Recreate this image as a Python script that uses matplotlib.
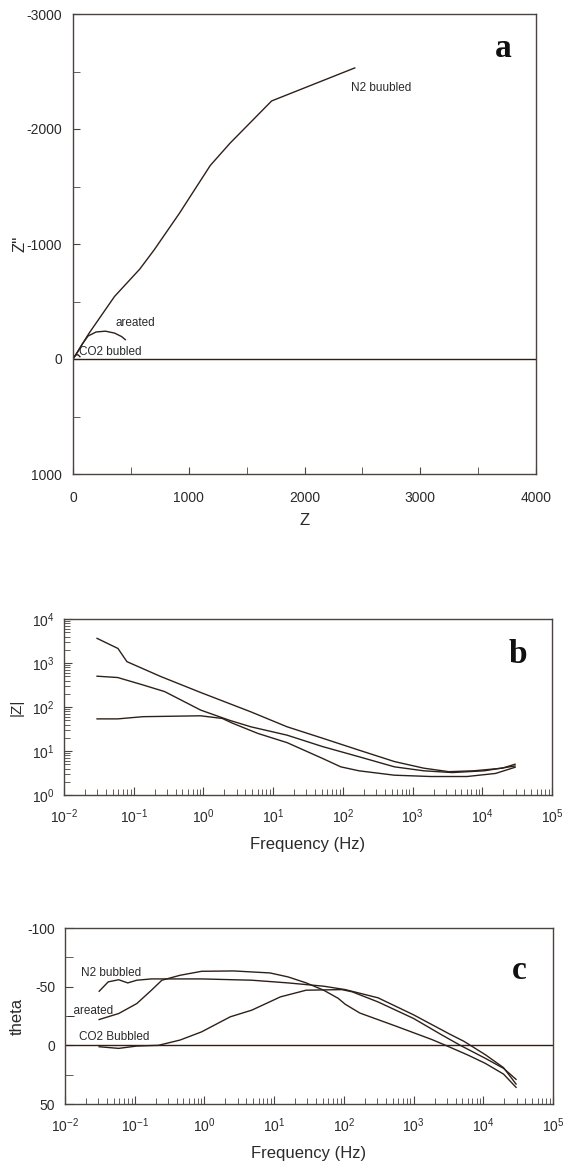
import numpy as np
import matplotlib
matplotlib.use("Agg")
import matplotlib.pyplot as plt
from matplotlib.ticker import LogLocator, NullFormatter, MultipleLocator

plt.rcParams['font.family'] = ['Liberation Sans', 'DejaVu Sans']
plt.rcParams['axes.unicode_minus'] = False

LINE = '#2e2019'
SPINE = '#4a4440'
TXT = '#2a2a2a'

# ---- panel a: Nyquist (Z', Z'') ----
n2_zr = [0, 140, 359, 577, 702, 920, 1186, 1357, 1716, 2434]
n2_zi = [0, -226, -544, -782, -950, -1268, -1683, -1877, -2244, -2531]
aer_zr = [0, 40, 80, 130, 200, 280, 360, 420, 452]
aer_zi = [0, -60, -130, -200, -235, -242, -225, -195, -168]
co2_zr = [0, 15, 30, 45, 60]
co2_zi = [0, -25, -38, -35, -20]

# ---- panel b: |Z| vs frequency (log10 values) ----
b_n2_logf = [-1.526, -1.226, -1.097, -0.608, -0.04, 0.68, 1.20, 1.71, 2.23, 2.74, 3.16, 3.52, 3.88, 4.29, 4.47]
b_n2_logz = [3.56, 3.33, 3.03, 2.69, 2.33, 1.89, 1.55, 1.29, 1.02, 0.76, 0.61, 0.53, 0.55, 0.61, 0.70]
b_aer_logf = [-1.526, -1.23, -0.865, -0.556, -0.04, 0.37, 0.68, 1.20, 1.71, 2.23, 2.74, 3.16, 3.57, 4.03, 4.47]
b_aer_logz = [2.70, 2.67, 2.50, 2.35, 1.93, 1.70, 1.55, 1.36, 1.10, 0.87, 0.64, 0.55, 0.51, 0.55, 0.66]
b_co2_logf = [-1.526, -1.23, -0.865, -0.04, 0.27, 0.42, 0.78, 1.20, 1.71, 1.97, 2.23, 2.74, 3.26, 3.78, 4.19, 4.47]
b_co2_logz = [1.73, 1.73, 1.78, 1.80, 1.74, 1.63, 1.40, 1.19, 0.83, 0.64, 0.55, 0.45, 0.42, 0.42, 0.49, 0.63]

# ---- panel c: phase angle vs frequency ----
c_n2_logf = [-1.51, -1.38, -1.23, -1.10, -0.97, -0.76, -0.04, 0.68, 1.20, 1.71, 2.02, 2.49, 3.0, 3.52, 3.72, 4.03, 4.29, 4.47]
c_n2_th = [-46.1, -54.1, -55.9, -53.2, -55.5, -56.6, -56.6, -55.5, -53.2, -50.4, -47.5, -40.5, -26.0, -9.5, -3.5, 8.0, 19.0, 33.0]
c_aer_logf = [-1.51, -1.23, -0.97, -0.76, -0.61, -0.35, -0.04, 0.42, 0.94, 1.20, 1.46, 1.71, 1.92, 2.02, 2.23, 2.74, 3.26, 3.46, 3.78, 4.03, 4.29, 4.47]
c_aer_th = [-22.0, -27.1, -35.6, -47.0, -55.5, -59.7, -63.1, -63.4, -61.7, -58.3, -53.2, -47.0, -40.0, -35.0, -27.5, -16.5, -5.0, 0.0, 8.3, 15.4, 24.5, 35.8]
c_co2_logf = [-1.51, -1.23, -0.97, -0.66, -0.35, -0.04, 0.37, 0.68, 1.09, 1.46, 1.97, 2.12, 2.49, 3.0, 3.41, 3.67, 4.03, 4.29, 4.47]
c_co2_th = [1.2, 2.6, 0.6, 0.0, -4.5, -11.5, -24.3, -30.0, -41.3, -47.0, -47.5, -45.6, -37.0, -22.9, -8.7, 0.0, 11.1, 19.6, 29.0]

fig = plt.figure(figsize=(5.64, 11.71), dpi=100)


def style_spines(ax):
    for s in ax.spines.values():
        s.set_color(SPINE)
        s.set_linewidth(1.0)
    ax.tick_params(which='both', direction='in', colors=SPINE, labelcolor=TXT,
                   top=False, right=False)


# panel a
ax = fig.add_axes([73 / 564, 1 - 474 / 1171, 463 / 564, 460 / 1171])
ax.plot(n2_zr, n2_zi, color=LINE, lw=1.0)
ax.plot(aer_zr, aer_zi, color=LINE, lw=1.0)
ax.plot(co2_zr, co2_zi, color=LINE, lw=1.0)
ax.axhline(0, color=LINE, lw=1.0)
ax.set_xlim(0, 4000)
ax.set_ylim(1000, -3000)
ax.xaxis.set_major_locator(MultipleLocator(1000))
ax.xaxis.set_minor_locator(MultipleLocator(500))
ax.yaxis.set_major_locator(MultipleLocator(1000))
ax.yaxis.set_minor_locator(MultipleLocator(500))
style_spines(ax)
ax.tick_params(which='both', length=5, labelsize=10)
ax.tick_params(axis='x', pad=12)
ax.tick_params(axis='y', pad=8)
ax.set_yticks([-3000, -2000, -1000, 0, 1000])
ax.set_yticklabels(['-3000', '-2000', '-1000', '0', '1000'])
ax.set_xlabel('Z', fontsize=12, color=TXT, labelpad=6)
ax.set_ylabel("Z''", fontsize=12, color=TXT, labelpad=-1)
ax.text(2402, -2354, 'N2 buubled', fontsize=8.5, color=TXT, va='center')
ax.text(365, -313, 'areated', fontsize=8.5, color=TXT, va='center')
ax.text(53, -58, 'CO2 bubled', fontsize=8.5, color=TXT, va='center')
ax.text(0.93, 0.925, 'a', transform=ax.transAxes, fontsize=24, fontweight='bold',
        family='Liberation Serif', ha='center', va='center', color='#111')


def log_axis(ax):
    ax.set_xscale('log')
    ax.set_xticks(10.0 ** np.arange(-2, 6))
    ax.xaxis.set_minor_locator(LogLocator(base=10, subs=np.arange(2, 10), numticks=10))
    ax.xaxis.set_minor_formatter(NullFormatter())
    ax.set_xlim(1e-2, 1e5)
    style_spines(ax)
    ax.tick_params(which='major', length=6, labelsize=10)
    ax.tick_params(which='minor', length=4)
    ax.tick_params(axis='x', pad=9)
    ax.tick_params(axis='y', pad=7)
    ax.set_xlabel('Frequency (Hz)', fontsize=12, color=TXT, labelpad=8)


# panel b
ax = fig.add_axes([64 / 564, 1 - 795 / 1171, 488 / 564, 176 / 1171])
for lf, lz in [(b_n2_logf, b_n2_logz), (b_aer_logf, b_aer_logz), (b_co2_logf, b_co2_logz)]:
    ax.plot(10 ** np.array(lf), 10 ** np.array(lz), color=LINE, lw=1.0)
ax.set_yscale('log')
ax.set_yticks(10.0 ** np.arange(0, 5))
ax.yaxis.set_minor_locator(LogLocator(base=10, subs=np.arange(2, 10), numticks=10))
ax.yaxis.set_minor_formatter(NullFormatter())
ax.set_ylim(1, 1e4)
log_axis(ax)
ax.set_ylabel('|Z|', fontsize=11, color=TXT, labelpad=6)
ax.text(0.93, 0.8, 'b', transform=ax.transAxes, fontsize=24, fontweight='bold',
        family='Liberation Serif', ha='center', va='center', color='#111')

# panel c
ax = fig.add_axes([65 / 564, 1 - 1104 / 1171, 488 / 564, 176 / 1171])
for lf, th in [(c_n2_logf, c_n2_th), (c_aer_logf, c_aer_th), (c_co2_logf, c_co2_th)]:
    ax.plot(10 ** np.array(lf), th, color=LINE, lw=1.0)
ax.axhline(0, color=LINE, lw=1.0)
log_axis(ax)
ax.set_ylim(50, -100)
ax.yaxis.set_major_locator(MultipleLocator(50))
ax.yaxis.set_minor_locator(MultipleLocator(25))
ax.tick_params(axis='y', which='minor', length=6)
ax.set_ylabel('theta', fontsize=12, color=TXT, labelpad=2)
ax.text(10 ** -1.77, -61.7, 'N2 bubbled', fontsize=8.5, color=TXT, va='center')
ax.text(10 ** -1.97, -30, '_areated', fontsize=8.5, color=TXT, va='center')
ax.text(10 ** -1.80, -6.7, 'CO2 Bubbled', fontsize=8.5, color=TXT, va='center')
ax.text(0.93, 0.76, 'c', transform=ax.transAxes, fontsize=24, fontweight='bold',
        family='Liberation Serif', ha='center', va='center', color='#111')

fig.savefig('out.png', dpi=100)
